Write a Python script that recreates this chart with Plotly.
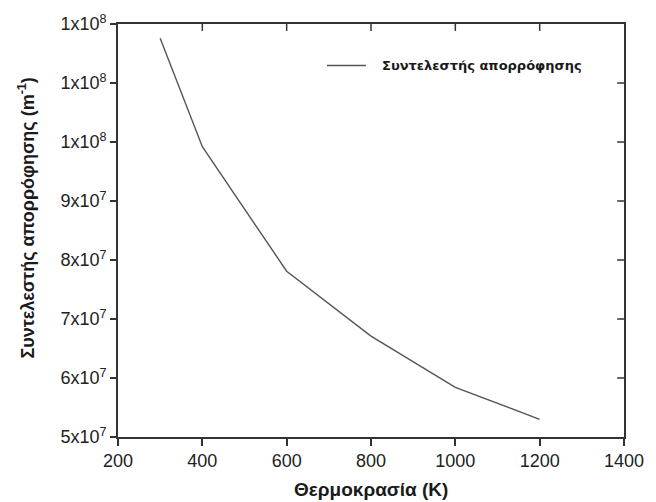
import plotly.graph_objects as go

# Absorption coefficient versus temperature
temperature_k = [300, 400, 600, 800, 1000, 1200]
absorption_m = [1.176e8, 9.92e7, 7.81e7, 6.71e7, 5.84e7, 5.30e7]

series_name = "Συντελεστής απορρόφησης"
x_title = "Θερμοκρασία (K)"
y_title = "Συντελεστής απορρόφησης (m<sup>-1</sup>)"

x_ticks = [200, 400, 600, 800, 1000, 1200, 1400]
y_ticks = [5e7, 6e7, 7e7, 8e7, 9e7, 1.0e8, 1.1e8, 1.2e8]
y_tick_text = ["5x10<sup>7</sup>", "6x10<sup>7</sup>", "7x10<sup>7</sup>",
               "8x10<sup>7</sup>", "9x10<sup>7</sup>", "1x10<sup>8</sup>",
               "1x10<sup>8</sup>", "1x10<sup>8</sup>"]

frame = "#333333"
line_color = "#555555"
tick_font = dict(family="Liberation Sans, Arial, sans-serif", size=18, color="#222222")
title_font = dict(family="Liberation Sans, Arial, sans-serif", size=18, color="#1a1a1a")

W, H = 656, 502
margin = dict(l=118, r=22, t=19, b=65)
plot_w = W - margin["l"] - margin["r"]
plot_h = H - margin["t"] - margin["b"]
inner_tick = 7  # px length of the inward ticks on the top and right edges

fig = go.Figure()
fig.add_trace(go.Scatter(
    x=temperature_k, y=absorption_m, mode="lines", name=series_name,
    line=dict(color=line_color, width=1.4), showlegend=False,
))

x_range = [x_ticks[0], x_ticks[-1]]
y_range = [y_ticks[0], y_ticks[-1]]

# inward tick marks along the top and right edges of the frame
tick_shapes = []
for xv in x_ticks[1:-1]:
    tick_shapes.append(dict(
        type="line", xref="x", yref="y domain", x0=xv, x1=xv,
        y0=1, y1=1 - inner_tick / plot_h,
        line=dict(color=frame, width=1.5)))
for yv in y_ticks[1:-1]:
    tick_shapes.append(dict(
        type="line", xref="x domain", yref="y", y0=yv, y1=yv,
        x0=1, x1=1 - inner_tick / plot_w,
        line=dict(color=frame, width=1.5)))

# legend key placement (paper coordinates)
key_y = 0.8995
key_x0, key_x1, key_text_x = 0.413, 0.490, 0.517

fig.update_layout(
    width=W, height=H, margin=margin,
    paper_bgcolor="white", plot_bgcolor="white",
    xaxis=dict(
        range=x_range, tickvals=x_ticks, ticks="outside", ticklen=7,
        tickwidth=1.5, tickcolor=frame, showline=True, linecolor=frame,
        linewidth=1.6, mirror=True, showgrid=False, zeroline=False,
        tickfont=tick_font,
    ),
    yaxis=dict(
        range=y_range, tickvals=y_ticks, ticktext=y_tick_text,
        ticks="outside", ticklen=6, tickwidth=1.5, tickcolor=frame,
        showline=True, linecolor=frame, linewidth=1.6, mirror=True,
        showgrid=False, zeroline=False, tickfont=tick_font,
    ),
    shapes=tick_shapes + [
        dict(type="line", xref="paper", yref="paper",
             x0=key_x0, x1=key_x1, y0=key_y, y1=key_y,
             line=dict(color=line_color, width=1.4)),
    ],
    annotations=[
        dict(text="<b>" + series_name + "</b>", xref="paper", yref="paper",
             x=key_text_x, y=key_y, xanchor="left", yanchor="middle",
             showarrow=False,
             font=dict(family="DejaVu Sans", size=13, color="#1a1a1a")),
        dict(text="<b>" + x_title + "</b>", xref="paper", yref="paper",
             x=0.5, y=-0.127, xanchor="center", yanchor="middle",
             showarrow=False, font=dict(title_font, size=19)),
        dict(text="<b>" + y_title + "</b>", xref="paper", yref="paper",
             x=-0.180, y=0.531, xanchor="center", yanchor="middle",
             textangle=-90, showarrow=False, font=title_font),
    ],
)

fig.write_html("out.html")
